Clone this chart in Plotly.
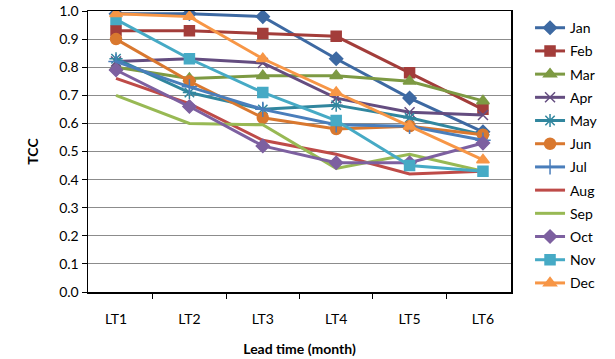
import plotly.graph_objects as go

categories = ["LT1", "LT2", "LT3", "LT4", "LT5", "LT6"]
months = ["Jan", "Feb", "Mar", "Apr", "May", "Jun", "Jul", "Aug", "Sep", "Oct", "Nov", "Dec"]

jan = [0.99, 0.99, 0.98, 0.83, 0.69, 0.57]
feb = [0.93, 0.93, 0.92, 0.91, 0.78, 0.65]
mar = [0.80, 0.76, 0.77, 0.77, 0.75, 0.68]
apr = [0.82, 0.83, 0.815, 0.69, 0.64, 0.63]
may = [0.83, 0.71, 0.65, 0.665, 0.62, 0.56]
jun = [0.90, 0.75, 0.62, 0.58, 0.59, 0.56]
jul = [0.82, 0.73, 0.65, 0.595, 0.59, 0.54]
aug = [0.76, 0.67, 0.54, 0.49, 0.42, 0.43]
sep = [0.70, 0.60, 0.595, 0.44, 0.49, 0.43]
oct_ = [0.79, 0.66, 0.52, 0.46, 0.46, 0.53]
nov = [0.97, 0.83, 0.71, 0.61, 0.45, 0.43]
dec = [0.99, 0.98, 0.83, 0.71, 0.59, 0.47]

series = [jan, feb, mar, apr, may, jun, jul, aug, sep, oct_, nov, dec]
colors = ["#3D69A2", "#A33D3A", "#7D9A43", "#644D80", "#31869E", "#D9782F",
          "#4A7EBB", "#BE4B48", "#98B954", "#7D60A0", "#46AAC5", "#F79646"]
symbols = ["diamond", "square", "triangle-up", "x-thin-open", "asterisk-open", "circle",
           "cross-thin-open", "line-ew-open", "circle", "diamond", "square", "triangle-up"]
sizes = [10, 10, 11, 10, 11, 11, 11, 0, 0, 10, 10, 11]

fig = go.Figure()
for name, vals, c, s, sz in zip(months, series, colors, symbols, sizes):
    fig.add_trace(go.Scatter(
        x=categories, y=vals, name=name, mode="lines+markers" if sz else "lines",
        line=dict(color=c, width=3),
        marker=dict(symbol=s, size=sz, color=c, line=dict(color=c, width=1.5)),
        legendgroup=name,
    ))

font = "Lato, 'Open Sans', sans-serif"
fig.update_layout(
    width=615, height=359,
    margin=dict(l=88, r=104, t=11, b=67, autoexpand=False),
    paper_bgcolor="white", plot_bgcolor="white",
    font=dict(family=font, size=14, color="black"),
    showlegend=True,
    hovermode=False,
    legend=dict(x=1.045, xanchor="left", y=0.996, yanchor="top",
                font=dict(size=14), tracegroupgap=2, itemwidth=30,
                bgcolor="rgba(0,0,0,0)"),
    xaxis=dict(
        type="category", showline=True, linecolor="black", linewidth=1.5, mirror=True,
        ticks="outside", ticklen=5, tickcolor="black", tickson="boundaries",
        showgrid=False, ticklabelstandoff=14,
        title=dict(text="<b>Lead time (month)</b>", font=dict(size=14), standoff=18),
    ),
    yaxis=dict(
        range=[0, 1], dtick=0.1, tickformat=".1f",
        showline=True, linecolor="black", linewidth=1.5, mirror=True,
        ticks="outside", ticklen=5, tickcolor="black",
        showgrid=True, gridcolor="#8C8C8C", gridwidth=1, zeroline=False,
        title=dict(text="<b>TCC</b>", font=dict(size=14), standoff=17),
    ),
)

fig.write_html(
    "out.html",
    config={"displayModeBar": False, "staticPlot": True},
    post_script=("document.body.style.margin='0';"
                 "document.body.style.overflow='hidden';"
                 "document.documentElement.style.overflow='hidden';"),
)
